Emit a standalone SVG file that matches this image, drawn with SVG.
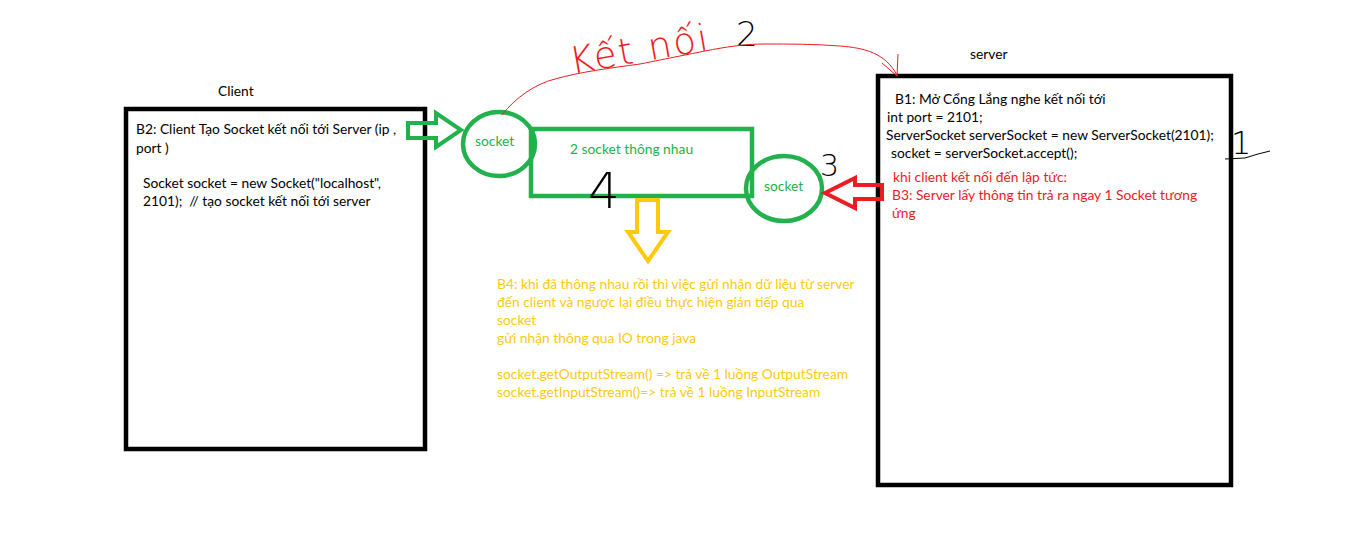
<svg xmlns="http://www.w3.org/2000/svg" width="1360" height="560" viewBox="0 0 1360 560">
<style>
text{font-family:Lato,"Open Sans","Noto Sans",sans-serif;font-size:13.8px}
.k{fill:#000}
.g{fill:#22b14c}
.r{fill:#ed1c24}
.y{fill:#ffc90e}
.box{fill:none;stroke:#000;stroke-width:4.5}
.gs{fill:none;stroke:#22b14c;stroke-width:4.5}
text.hand{font-family:"DejaVu Sans",Lato,sans-serif;font-weight:200}
</style>
<rect width="1360" height="560" fill="#fff"/>

<g id="client">
<text x="218" y="96" class="k">Client</text>
<rect x="126" y="109" width="299" height="340" class="box"/>
<text x="136" y="134" class="k">B2: Client Tạo Socket kết nối tới Server (ip ,</text>
<text x="136" y="153" class="k">port )</text>
<text x="143" y="188" class="k">Socket socket = new Socket("localhost",</text>
<text x="143" y="206" class="k" style="white-space:pre">2101);  // tạo socket kết nối tới server</text>
</g>

<g id="server">
<text x="970" y="59" class="k">server</text>
<rect x="878" y="76" width="353" height="409" class="box"/>
<text x="895" y="104" class="k">B1: Mở Cổng Lắng nghe kết nối tới</text>
<text x="887" y="122" class="k">int port = 2101;</text>
<text x="886" y="140" class="k">ServerSocket serverSocket = new ServerSocket(2101);</text>
<text x="891" y="158" class="k">socket = serverSocket.accept();</text>
<text x="893" y="182" class="r">khi client kết nối đến lập tức:</text>
<text x="892" y="200" class="r">B3: Server lấy thông tin trả ra ngay 1 Socket tương</text>
<text x="892" y="218" class="r">ứng</text>
</g>

<g id="socket-client">
<ellipse cx="499" cy="144" rx="36" ry="32" class="gs"/>
<text x="475" y="146" class="g">socket</text>
</g>

<g id="socket-channel">
<rect x="531" y="129" width="221" height="67" class="gs"/>
<text x="570" y="154" class="g">2 socket thông nhau</text>
</g>

<g id="socket-server">
<ellipse cx="784" cy="188.5" rx="38" ry="32.5" class="gs"/>
<text x="764" y="191" class="g">socket</text>
</g>

<g id="note-b4">
<text x="497" y="289" class="y">B4: khi đã thông nhau rồi thì việc gửi nhận dữ liệu từ server</text>
<text x="497" y="307" class="y">đến client và ngược lại điều thực hiện gián tiếp qua</text>
<text x="497" y="325" class="y">socket</text>
<text x="497" y="343" class="y">gửi nhận thông qua IO trong java</text>
<text x="497" y="379" class="y">socket.getOutputStream() =&gt; trả về 1 luồng OutputStream</text>
<text x="497" y="397" class="y">socket.getInputStream()=&gt; trả về 1 luồng InputStream</text>
</g>

<g id="annotations">
<text x="572" y="74" class="r hand" style="font-size:37px;letter-spacing:2px" transform="rotate(-10 572 74)">Kết nối</text>
<text x="736" y="46" class="k hand" style="font-size:34px">2</text>
<text x="1231" y="154" class="k hand" style="font-size:32px">1</text>
<path d="M1225 159 L1245 158 L1258 154 L1270 151" fill="none" stroke="#000" stroke-width="1"/>
<text x="820" y="176" class="k hand" style="font-size:30px">3</text>
<text x="588" y="208" class="k hand" style="font-size:50px">4</text>
</g>

<g id="connectors">
<polygon points="408,123 436,123 436,113 461,130 436,147 436,138 408,138" fill="none" stroke="#22b14c" stroke-width="4" stroke-linejoin="miter"/>
<polygon points="882,185 855,185 855,178 825,193 855,208 855,199 882,199" fill="none" stroke="#ed1c24" stroke-width="4"/>
<polygon points="637,200 658,200 658,232 668,232 648,261 628,232 637,232" fill="none" stroke="#ffc90e" stroke-width="4"/>
<path d="M502 115 C515 98 535 84 555 79 C580 72 610 68 640 64 C670 58 690 54 705 51 C725 47 745 44 765 44 C790 44 815 44 840 46 C865 48 885 53 897 75" fill="none" stroke="#ed1c24" stroke-width="1"/>
<path d="M882 63 L897 76 L898 54" fill="none" stroke="#ed1c24" stroke-width="1"/>
</g>
</svg>
